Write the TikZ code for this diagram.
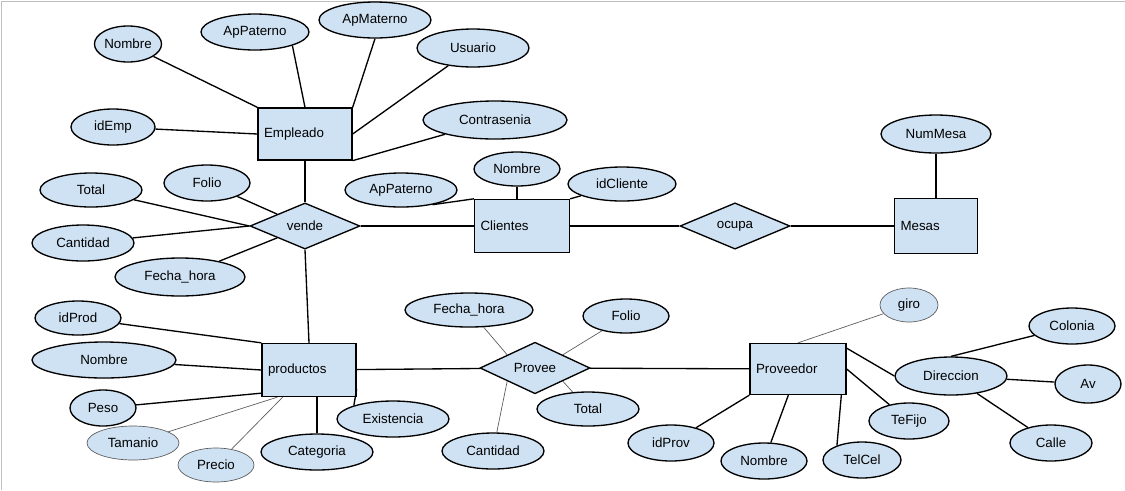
\documentclass[tikz,border=0pt]{standalone}
\usepackage{fontspec}
\setmainfont{Liberation Sans}
\usetikzlibrary{shapes.geometric}
\definecolor{azul}{RGB}{207,226,243}
\begin{document}
\begin{tikzpicture}[x=0.75pt,y=-0.75pt,line width=1pt,
  font=\fontsize{10}{12}\selectfont,
  ent/.style 2 args={draw,fill=azul,rectangle,text width=#1,minimum height=#2,align=left,inner xsep=4.5pt},
  att/.style 2 args={draw,fill=azul,ellipse,inner sep=0pt,minimum width=#1*0.75pt,minimum height=#2*0.75pt},
  rel/.style 2 args={draw,fill=azul,diamond,inner sep=0pt,minimum width=#1*0.75pt,minimum height=#2*0.75pt},
  fino/.style={line width=0.5pt,draw=black!65}]
\useasboundingbox[fill=white](0,0) rectangle (1125,490);
\draw[line width=0.6pt,black!25](1.5,490)--(1.5,1.5)--(1125,1.5);

\node[ent={61.5pt}{39pt}](E) at (305,134){Empleado};
\node[att={66}{36}](E1) at (128,44){Nombre};
\node[att={108}{36}](E2) at (255,32){ApPaterno};
\node[att={112}{36}](E3) at (375,20){ApMaterno};
\node[att={112}{38}](E4) at (473,48){Usuario};
\node[att={144}{38}](E5) at (495,120){Contrasenia};
\node[att={84}{36}](E6) at (113,127){idEmp};

\node[rel={110}{36}](V) at (305,226){vende};
\node[att={86}{36}](V1) at (207,183){Folio};
\node[att={102}{34}](V2) at (91,190){Total};
\node[att={102}{36}](V3) at (83,243){Cantidad};
\node[att={130}{38}](V4) at (180,277){Fecha\_hora};

\node[ent={62.25pt}{39.75pt}](C) at (522,226){Clientes};
\node[att={112}{34}](C1) at (401,190){ApPaterno};
\node[att={86}{34}](C2) at (517,169){Nombre};
\node[att={108}{34}](C3) at (622,184){idCliente};

\node[rel={110}{46}](O) at (735,226){ocupa};
\node[ent={53.25pt}{41.25pt}](M) at (936,226){Mesas};
\node[att={110}{38}](M1) at (936,134){NumMesa};

\node[ent={61.5pt}{39.75pt}](P) at (309,370){productos};
\node[att={86}{34}](P1) at (78,318){idProd};
\node[att={144}{36}](P2) at (104,360){Nombre};
\node[att={66}{36}](P3) at (103,408){Peso};
\node[att={92}{34},fino](P4) at (133,443){Tamanio};
\node[att={76}{34},fino](P5) at (216,465){Precio};
\node[att={112}{36}](P6) at (317,452){Categoria};
\node[att={112}{36}](P7) at (393,419){Existencia};

\node[rel={110}{36}](R) at (535,368){Provee};
\node[att={128}{34}](R1) at (469,310){Fecha\_hora};
\node[att={86}{34}](R2) at (626,316){Folio};
\node[att={102}{34}](R3) at (588,409){Total};
\node[att={102}{36}](R4) at (493,451){Cantidad};

\node[ent={63pt}{38.25pt}](Q) at (798,369){Proveedor};
\node[att={58}{34},fino](Q1) at (909,305){giro};
\node[att={112}{38}](Q2) at (951,376){Direccion};
\node[att={86}{36}](Q3) at (1072,326){Colonia};
\node[att={66}{38}](Q4) at (1088,384){Av};
\node[att={82}{36}](Q5) at (1051,443){Calle};
\node[att={80}{36}](Q6) at (909,421){TeFijo};
\node[att={78}{36}](Q7) at (862,460){TelCel};
\node[att={86}{36}](Q8) at (764,461){Nombre};
\node[att={86}{36}](Q9) at (671,443){idProv};

\draw(E1)--(E.north west);
\draw(E2.-20)--(E.north);
\draw(E3.south)--(E.north east);
\draw(E4)--(E.east);
\draw(E5)--(E.south east);
\draw(E6)--(E.west);
\draw(E)--(V);
\draw(V1)--(V.north west);
\draw(V2)--(V.west);
\draw(V3)--(V.west);
\draw(V4)--(V.south west);
\draw(V)--(C);
\draw(C1.-25)--(C.north west);
\draw(C2)--(C2|-C.north);
\draw(C3)--(C.north east);
\draw(C)--(O);
\draw(O)--(M);
\draw(M1)--(M);
\draw(V.south)--(P.north);
\draw(P1)--(P.north west);
\draw(P2)--(P.west);
\draw(P3)--([yshift=3pt]P.south west);
\draw[fino](P4)--([xshift=12pt]P.south west);
\draw[fino](P5)--([xshift=16pt]P.south west);
\draw(P6)--(P6|-P.south);
\draw(P7.161)--([yshift=6pt]P.south east);
\draw(P)--(R);
\draw[fino](R1)--(R.north west);
\draw[fino](R2)--(R.north east);
\draw[fino](R3)--(R.south east);
\draw[fino](R4)--(R.south west);
\draw(R)--(Q);
\draw[fino](Q1)--(Q.north);
\draw([yshift=-4pt]Q.north east)--(Q2.west);
\draw(Q2.north)--(Q3);
\draw(Q2)--(Q4);
\draw(Q2)--(Q5);
\draw(Q.east)--(Q6);
\draw([xshift=-4pt]Q.south east)--(Q7.150);
\draw(Q)--(Q8);
\draw(Q.south west)--(Q9);
\end{tikzpicture}
\end{document}
